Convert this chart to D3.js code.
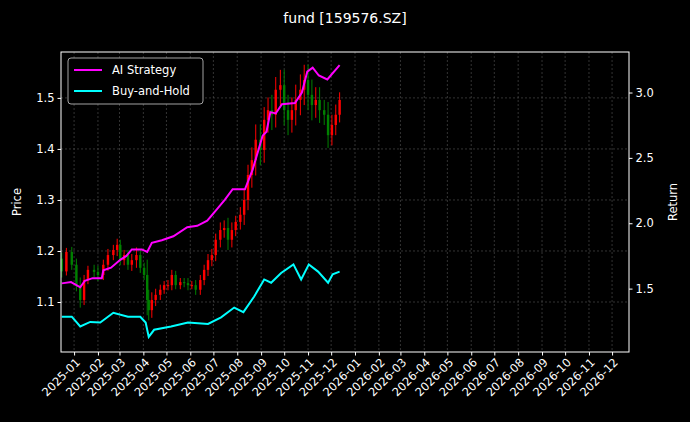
<!DOCTYPE html>
<html><head><meta charset="utf-8">
<script src="https://cdn.jsdelivr.net/npm/d3@7"></script>
<style>body{margin:0;background:#000}svg{display:block}text{font-family:"DejaVu Sans",sans-serif}</style>
</head><body><svg id="c" width="690" height="422"></svg>
<script>
const candleDates=["2024-12-16","2024-12-22","2024-12-29","2025-01-04","2025-01-09","2025-01-14","2025-01-19","2025-01-27","2025-02-01","2025-02-08","2025-02-14","2025-02-21","2025-02-26","2025-03-02","2025-03-07","2025-03-12","2025-03-17","2025-03-23","2025-03-28","2025-04-02","2025-04-06","2025-04-08","2025-04-12","2025-04-17","2025-04-23","2025-04-28","2025-05-03","2025-05-08","2025-05-13","2025-05-19","2025-05-24","2025-05-29","2025-06-03","2025-06-08","2025-06-14","2025-06-19","2025-06-24","2025-06-29","2025-07-04","2025-07-10","2025-07-15","2025-07-20","2025-07-25","2025-07-30","2025-08-05","2025-08-10","2025-08-15","2025-08-20","2025-08-25","2025-08-31","2025-09-05","2025-09-10","2025-09-15","2025-09-20","2025-09-26","2025-10-01","2025-10-06","2025-10-11","2025-10-16","2025-10-22","2025-10-27","2025-11-01","2025-11-06","2025-11-11","2025-11-16","2025-11-22","2025-11-27","2025-12-02","2025-12-07","2025-12-12"];
const candleClose=[1.160,1.198,1.173,1.133,1.104,1.143,1.163,1.159,1.153,1.173,1.192,1.202,1.212,1.182,1.192,1.173,1.182,1.192,1.167,1.153,1.104,1.084,1.104,1.114,1.124,1.133,1.133,1.153,1.133,1.139,1.137,1.133,1.133,1.124,1.143,1.163,1.182,1.192,1.222,1.241,1.245,1.222,1.241,1.257,1.271,1.300,1.349,1.378,1.418,1.398,1.457,1.476,1.467,1.516,1.525,1.476,1.457,1.476,1.496,1.516,1.535,1.506,1.486,1.496,1.476,1.467,1.427,1.447,1.467,1.496];
const candleOpen=[1.185,1.160,1.198,1.173,1.133,1.104,1.143,1.163,1.159,1.153,1.173,1.192,1.202,1.212,1.182,1.192,1.173,1.182,1.192,1.167,1.153,1.104,1.084,1.104,1.114,1.124,1.133,1.133,1.153,1.133,1.139,1.137,1.133,1.133,1.124,1.143,1.163,1.182,1.192,1.222,1.241,1.245,1.222,1.241,1.257,1.271,1.300,1.349,1.378,1.418,1.398,1.457,1.476,1.467,1.516,1.525,1.476,1.457,1.476,1.496,1.516,1.535,1.506,1.486,1.496,1.476,1.467,1.427,1.447,1.467];
const candleWick=[0.012,0.008,0.01,0.012,0.015,0.01,0.008,0.01,0.012,0.01,0.012,0.01,0.012,0.01,0.01,0.01,0.012,0.015,0.01,0.01,0.03,0.02,0.015,0.012,0.01,0.008,0.01,0.01,0.008,0.008,0.008,0.01,0.008,0.01,0.01,0.01,0.012,0.012,0.012,0.015,0.015,0.02,0.015,0.012,0.015,0.02,0.02,0.025,0.03,0.03,0.025,0.025,0.03,0.025,0.03,0.03,0.03,0.025,0.03,0.03,0.03,0.03,0.03,0.025,0.025,0.02,0.025,0.02,0.02,0.015];
const aiDates=["2024-12-16","2024-12-28","2025-01-09","2025-01-15","2025-01-25","2025-02-06","2025-02-08","2025-02-18","2025-03-02","2025-03-10","2025-03-17","2025-03-30","2025-04-06","2025-04-12","2025-04-25","2025-05-10","2025-05-28","2025-06-10","2025-06-23","2025-07-06","2025-07-16","2025-07-26","2025-08-11","2025-08-21","2025-09-03","2025-09-08","2025-09-13","2025-09-20","2025-09-28","2025-10-15","2025-10-24","2025-10-31","2025-11-07","2025-11-15","2025-11-26","2025-12-12"];
const aiReturn=[1.54,1.55,1.51,1.56,1.58,1.58,1.64,1.66,1.72,1.75,1.80,1.80,1.78,1.85,1.87,1.90,1.97,1.98,2.02,2.11,2.18,2.26,2.26,2.41,2.67,2.70,2.85,2.84,2.91,2.92,3.00,3.16,3.19,3.13,3.10,3.21];
const bhDates=["2024-12-16","2024-12-29","2025-01-09","2025-01-22","2025-02-04","2025-02-21","2025-03-12","2025-03-28","2025-04-04","2025-04-08","2025-04-15","2025-05-07","2025-05-29","2025-06-24","2025-07-11","2025-07-28","2025-08-09","2025-08-23","2025-09-05","2025-09-14","2025-09-27","2025-10-13","2025-10-23","2025-11-02","2025-11-14","2025-11-27","2025-12-03","2025-12-12"];
const bhReturn=[1.285,1.285,1.21,1.245,1.24,1.315,1.285,1.285,1.24,1.13,1.185,1.21,1.24,1.23,1.28,1.355,1.32,1.44,1.57,1.545,1.62,1.685,1.57,1.685,1.63,1.545,1.61,1.63];
const priceTicks=[1.1,1.2,1.3,1.4,1.5];
const returnTicks=[1.5,2.0,2.5,3.0];

const svg=d3.select("#c");
svg.append("rect").attr("width",690).attr("height",422).attr("fill","#000");
const L=61,R=629,T=52,B=352;
const p=d3.timeParse("%Y-%m-%d");
const x=d3.scaleTime().domain([p("2024-12-15"),p("2026-12-23")]).range([L,R]);
const yP=d3.scaleLinear().domain([1.002,1.59]).range([B,T]);
const yR=d3.scaleLinear().domain([1.015,3.31]).range([B,T]);
const months=d3.timeMonth.range(p("2025-01-01"),p("2026-12-02"));
const g=svg.append("g");
g.selectAll(".vg").data(months).join("line").attr("x1",d=>x(d)).attr("x2",d=>x(d)).attr("y1",T).attr("y2",B)
 .attr("stroke","#555").attr("stroke-width",0.6).attr("stroke-dasharray","2,2");
g.selectAll(".hg").data(priceTicks).join("line").attr("x1",L).attr("x2",R).attr("y1",d=>yP(d)).attr("y2",d=>yP(d))
 .attr("stroke","#555").attr("stroke-width",0.6).attr("stroke-dasharray","2,2");
const cd=candleDates.map((d,i)=>({d:p(d),o:candleOpen[i],c:candleClose[i],w:candleWick[i]}));
const cg=svg.append("g");
cd.forEach(k=>{const col=k.c>=k.o?"#ff0000":"#008000";const hi=Math.max(k.o,k.c)+k.w,lo=Math.min(k.o,k.c)-k.w;
 cg.append("line").attr("x1",x(k.d)).attr("x2",x(k.d)).attr("y1",yP(hi)).attr("y2",yP(lo)).attr("stroke",col).attr("stroke-width",1);
 cg.append("rect").attr("x",x(k.d)-1.2).attr("width",2.4).attr("y",yP(Math.max(k.o,k.c))).attr("height",Math.max(1,Math.abs(yP(k.o)-yP(k.c)))).attr("fill",col);});
const line=d3.line().x(d=>x(d[0])).y(d=>yR(d[1]));
svg.append("path").datum(aiDates.map((d,i)=>[p(d),aiReturn[i]])).attr("d",line).attr("fill","none").attr("stroke","#ff00ff").attr("stroke-width",2);
svg.append("path").datum(bhDates.map((d,i)=>[p(d),bhReturn[i]])).attr("d",line).attr("fill","none").attr("stroke","#00ffff").attr("stroke-width",2);
svg.append("rect").attr("x",L).attr("y",T).attr("width",R-L).attr("height",B-T).attr("fill","none").attr("stroke","#fff").attr("stroke-width",1);
const ax=svg.append("g").attr("transform",`translate(0,${B})`).call(d3.axisBottom(x).tickValues(months).tickFormat(d3.timeFormat("%Y-%m")).tickSizeOuter(0).tickSize(3.5));
ax.selectAll("text").attr("transform","rotate(-45)").style("text-anchor","end").attr("dx","-0.3em").attr("dy","0.5em");
const al=svg.append("g").attr("transform",`translate(${L},0)`).call(d3.axisLeft(yP).tickValues(priceTicks).tickFormat(d3.format(".1f")).tickSizeOuter(0).tickSize(3.5));
const ar=svg.append("g").attr("transform",`translate(${R},0)`).call(d3.axisRight(yR).tickValues(returnTicks).tickFormat(d3.format(".1f")).tickSizeOuter(0).tickSize(3.5));
[ax,al,ar].forEach(a=>{a.select(".domain").remove();a.selectAll("line").attr("stroke","#fff");a.selectAll("text").attr("fill","#fff").style("font-size","11.5px").style("font-family","DejaVu Sans");});
svg.append("text").attr("x",345).attr("y",23).attr("text-anchor","middle").attr("fill","#fff").style("font-size","14px").text("fund [159576.SZ]");
svg.append("text").attr("transform","translate(21,202) rotate(-90)").attr("text-anchor","middle").attr("fill","#fff").style("font-size","11.5px").text("Price");
svg.append("text").attr("transform","translate(677,202) rotate(-90)").attr("text-anchor","middle").attr("fill","#fff").style("font-size","11.5px").text("Return");
const lg=svg.append("g");
lg.append("rect").attr("x",68).attr("y",58).attr("width",135).attr("height",46).attr("rx",3).attr("fill","#000").attr("stroke","#ccc").attr("stroke-width",0.8);
[["AI Strategy","#ff00ff"],["Buy-and-Hold","#00ffff"]].forEach((e,i)=>{const yy=70+i*21;
 lg.append("line").attr("x1",74).attr("x2",102).attr("y1",yy).attr("y2",yy).attr("stroke",e[1]).attr("stroke-width",2);
 lg.append("text").attr("x",112).attr("y",yy+4).attr("fill","#fff").style("font-size","11.5px").text(e[0]);});
</script></body></html>
